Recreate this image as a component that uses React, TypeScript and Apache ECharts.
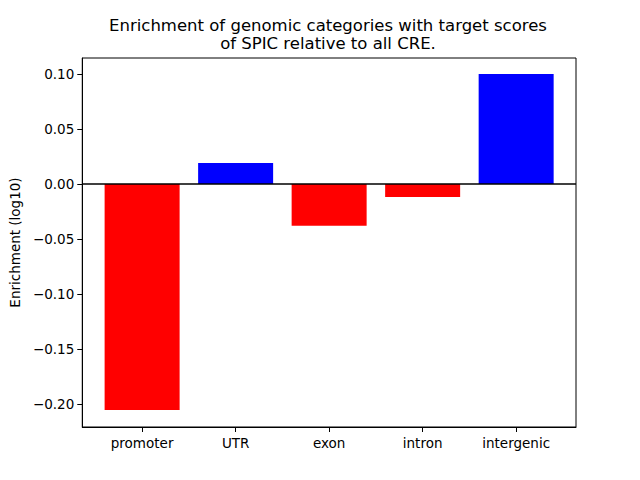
import React, { useEffect, useRef } from "react";
import * as echarts from "echarts";

const categories = ["promoter", "UTR", "exon", "intron", "intergenic"];
const values = [-0.2055, 0.019, -0.038, -0.0118, 0.1];
const yTicks = [-0.2, -0.15, -0.1, -0.05, 0.0, 0.05, 0.1];
const xTicks = [0, 1, 2, 3, 4];
const titleLines = [
  "Enrichment of genomic categories with target scores",
  "of SPIC relative to all CRE.",
];

const FONT = "DejaVu Sans";

export default function App() {
  const ref = useRef<HTMLDivElement>(null);
  useEffect(() => {
    if (!ref.current) return;
    const chart = echarts.init(ref.current, null, { renderer: "svg" });
    const ts = {
      fontFamily: FONT,
      fontSize: 16.5,
      fontWeight: "normal",
      color: "#000",
      lineHeight: 17,
    };
    chart.setOption({
      animation: false,
      title: {
        text: titleLines[0],
        subtext: titleLines[1],
        left: 328,
        textAlign: "center",
        top: 17,
        itemGap: 1,
        padding: 0,
        textStyle: ts,
        subtextStyle: ts,
      },
      grid: {
        left: 79,
        right: 64,
        top: 58,
        bottom: 53,
        show: true,
        borderColor: "#000",
        borderWidth: 1,
        backgroundColor: "transparent",
      },
      xAxis: {
        type: "value",
        min: -0.64,
        max: 4.64,
        splitLine: { show: false },
        axisLine: { show: true, onZero: false, lineStyle: { color: "#000" } },
        axisTick: {
          show: true,
          inside: false,
          length: 5,
          customValues: xTicks,
          lineStyle: { color: "#000" },
        },
        axisLabel: {
          customValues: xTicks,
          formatter: (v: number) => categories[Math.round(v)] ?? "",
          color: "#000",
          fontFamily: FONT,
          fontSize: 13.5,
          margin: 9,
        },
      },
      yAxis: {
        type: "value",
        min: -0.2209,
        max: 0.1145,
        name: "Enrichment (log10)",
        nameLocation: "middle",
        nameGap: 59,
        nameTextStyle: { fontFamily: FONT, fontSize: 13.5, color: "#000" },
        splitLine: { show: false },
        axisLine: { show: true, onZero: false, lineStyle: { color: "#000" } },
        axisTick: {
          show: true,
          inside: false,
          length: 5,
          customValues: yTicks,
          lineStyle: { color: "#000" },
        },
        axisLabel: {
          customValues: yTicks,
          formatter: (v: number) =>
            (v < -1e-9 ? "\u2212" : "") + Math.abs(v).toFixed(2),
          color: "#000",
          fontFamily: FONT,
          fontSize: 13.5,
          margin: 8,
        },
      },
      series: [
        {
          type: "bar",
          barWidth: 75,
          data: values.map((v, i) => ({
            value: [i, v],
            itemStyle: { color: v < 0 ? "#ff0000" : "#0000ff" },
          })),
          markLine: {
            silent: true,
            symbol: "none",
            label: { show: false },
            lineStyle: { color: "#000", type: "solid", width: 1.5 },
            data: [{ yAxis: 0 }],
          },
        },
      ],
    });
    return () => chart.dispose();
  }, []);
  return <div ref={ref} style={{ width: 640, height: 480, margin: -8 }} />;
}
